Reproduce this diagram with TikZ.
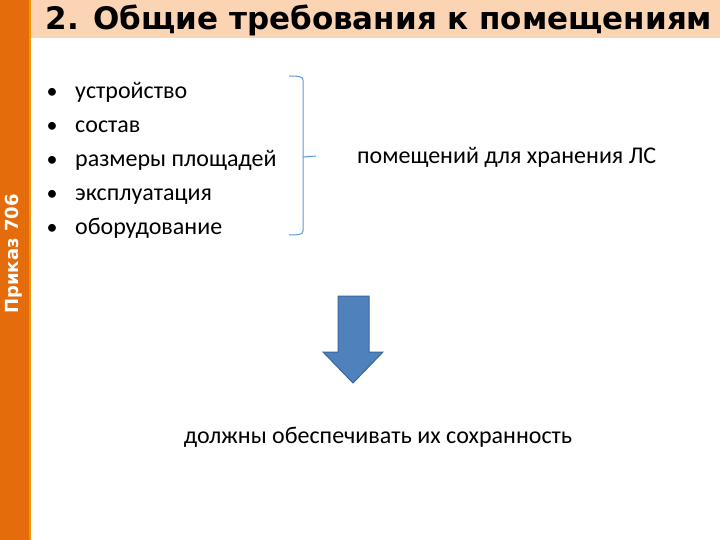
\documentclass[tikz,border=0pt]{standalone}
\usepackage{fontspec}
\setmainfont{Carlito}
\newfontfamily\titlefont{DejaVu Sans}
\definecolor{barorange}{HTML}{E46C0A}
\definecolor{peach}{HTML}{FBD4B4}
\definecolor{arrowblue}{HTML}{4F81BD}
\definecolor{arrowedge}{HTML}{3A679C}
\definecolor{bracecol}{HTML}{5B9BD5}
\tikzset{
  bodytext/.style={font=\fontsize{24}{28}\selectfont, inner sep=0pt, anchor=base west, text=black},
  bullettext/.style={bodytext},
  bulletdot/.style={font=\fontsize{22}{26}\selectfont, inner sep=0pt, anchor=base, text=black}
}
\begin{document}
\begin{tikzpicture}[x=1pt,y=-1pt]
\useasboundingbox (0,0) rectangle (720,540);
\fill[white] (0,0) rectangle (720,540);
% orange bar
\fill[barorange] (0,0) rectangle (29,540);
\fill[barorange!70!yellow] (29,0) rectangle (31,540);
% title band
\fill[peach] (31,0) rectangle (720,38);
\node[font=\titlefont\bfseries\fontsize{31}{34}\selectfont, inner sep=0pt] (title) at (379,20) {2. Общие требования к помещениям};
% vertical label
\node[rotate=90, font=\titlefont\bfseries\fontsize{18}{20}\selectfont, text=white, inner sep=0pt] (prikaz) at (14,254) {Приказ 706};
% bullets
\foreach \t [count=\i] in {устройство, состав, размеры площадей, эксплуатация, оборудование}{
  \node[bulletdot] (b\i) at (52,{65+34*\i}) {•};
  \node[bullettext] (t\i) at (75,{65+34*\i}) {\t};
}
% bracket
\coordinate (bm) at (303,157);
\draw[bracecol, line width=1pt] (289,76) .. controls (297,76) and (303,76) .. (303,80) -- (303,231) .. controls (303,235) and (297,235) .. (289,235);
\draw[bracecol, line width=1pt] (bm) -- (316,156);
\node[bodytext, anchor=west] (dest) at (357,157) {помещений для хранения ЛС};
% arrow
\draw[arrowedge, fill=arrowblue, line width=1pt] (338,296) -- (369,296) -- (369,352) -- (383,352) -- (353,383) -- (323,352) -- (338,352) -- cycle;
\node[bodytext, anchor=center] (result) at (378,437) {должны обеспечивать их сохранность};
\end{tikzpicture}
\end{document}
